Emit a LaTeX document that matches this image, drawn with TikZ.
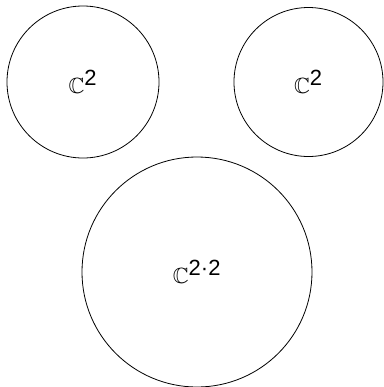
\documentclass[tikz,border=0pt]{standalone}
\usepackage{amssymb}
\usepackage{fontspec}
\setsansfont{Liberation Sans}
\usepackage{tikz}
\usetikzlibrary{shapes, positioning}

\begin{document}
\begin{tikzpicture}[x=0.75pt, y=-0.75pt]
    \tikzstyle{space} = [draw, circle, line width=0.6pt, inner sep=0pt, align=center, font=\fontsize{16.5}{19}\selectfont]
    \useasboundingbox (0,0) rectangle (384,387);

    \node[space, minimum size=152*0.75pt] (left) at (83, 82) {$\mathbb{C}^{\textsf{2}}$};
    \node[space, minimum size=149*0.75pt] (right) at (308.5, 82) {$\mathbb{C}^{\textsf{2}}$};
    \node[space, minimum size=230*0.75pt] (tensor) at (197, 272) {$\mathbb{C}^{\textsf{2·2}}$};
\end{tikzpicture}
\end{document}
